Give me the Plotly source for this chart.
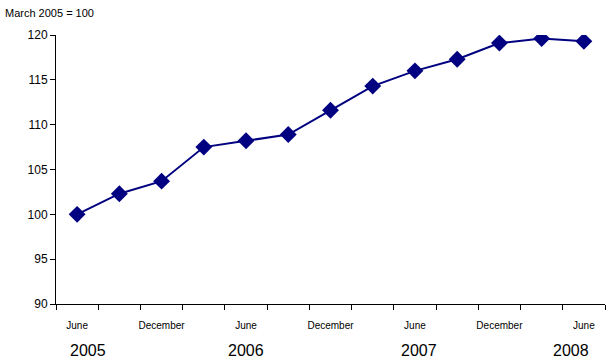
import plotly.graph_objects as go

periods = ["Jun 2005", "Sep 2005", "Dec 2005", "Mar 2006", "Jun 2006", "Sep 2006",
           "Dec 2006", "Mar 2007", "Jun 2007", "Sep 2007", "Dec 2007", "Mar 2008", "Jun 2008"]
index_values = [100.0, 102.3, 103.7, 107.5, 108.2, 108.9, 111.6, 114.3, 116.0, 117.3, 119.1, 119.6, 119.3]
month_labels = ["June", "", "December", "", "June", "", "December", "", "June", "", "December", "", "June"]
year_labels = ["2005", "2006", "2007", "2008"]
year_positions = [0.25, 4.0, 8.1, 11.7]

x = list(range(len(periods)))

fig = go.Figure()
fig.add_trace(go.Scatter(
    x=x, y=index_values, mode="lines+markers",
    line=dict(color="#000080", width=2),
    marker=dict(symbol="diamond", size=13, color="#000080"),
    text=periods, hoverinfo="text+y", showlegend=False,
))

for lbl, pos in zip(year_labels, year_positions):
    fig.add_annotation(x=pos, y=0, xref="x", yref="paper", yshift=-46, yanchor="middle",
                       text=lbl, showarrow=False,
                       font=dict(family="Arial, Liberation Sans", size=16, color="#000000"))

fig.add_annotation(x=0, y=1, xref="paper", yref="paper", xshift=-53, yshift=30,
                   xanchor="left", yanchor="top", text="March 2005 = 100", showarrow=False,
                   font=dict(family="Arial, Liberation Sans", size=11, color="#000000"))

fig.update_xaxes(
    range=[-0.5, 12.5], tickvals=x, ticktext=month_labels, ticks="",
    tickfont=dict(family="Arial, Liberation Sans", size=10, color="#000000"),
    showline=True, linecolor="#000000", linewidth=1, showgrid=False, zeroline=False,
    minor=dict(tickvals=[i - 0.5 for i in range(len(periods) + 1)], ticks="outside",
               ticklen=5, tickcolor="#000000", tickwidth=1, showgrid=False),
    ticklabelstandoff=12,
)
fig.update_yaxes(
    range=[90, 120], tickvals=[90, 95, 100, 105, 110, 115, 120], ticks="outside",
    ticklen=5, tickcolor="#000000",
    tickfont=dict(family="Arial, Liberation Sans", size=12, color="#000000"),
    showline=True, linecolor="#000000", linewidth=1, showgrid=False, zeroline=False,
)
fig.update_layout(
    width=608, height=360, margin=dict(l=56, r=3, t=35, b=56),
    plot_bgcolor="white", paper_bgcolor="white",
)
fig.write_html("out.html", config={"displayModeBar": False},
               post_script="document.body.style.margin='0';")
